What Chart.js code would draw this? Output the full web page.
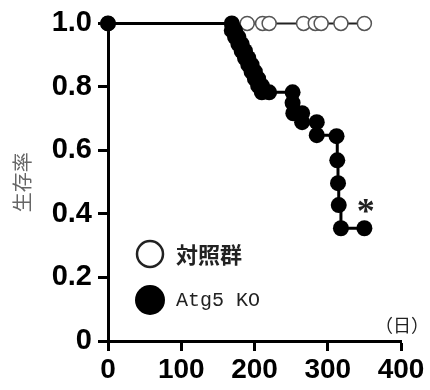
<!DOCTYPE html>
<html>
<head>
<meta charset="utf-8">
<script src="https://cdn.jsdelivr.net/npm/chart.js@4.4.1/dist/chart.umd.min.js"></script>
<style>
  html, body { margin: 0; padding: 0; background: #fff; }
  #wrap { width: 430px; height: 390px; position: relative; }
</style>
</head>
<body>
<div id="wrap"><canvas id="myChart"></canvas></div>
<script>
// survival data (days, fraction surviving)
var koDays   = [0, 169, 169, 173.5, 173.5, 178, 178, 182.5, 182.5, 187, 187, 191.5, 191.5, 196, 196, 200.5, 200.5, 205, 205, 210, 210, 220,
                252, 252, 253, 265, 265, 285, 285, 312, 313, 314, 315, 318, 350];
var koSurv   = [1.0, 1.0, 0.978, 0.978, 0.957, 0.957, 0.935, 0.935, 0.913, 0.913, 0.891, 0.891, 0.870, 0.870, 0.848, 0.848, 0.826, 0.826, 0.804, 0.804, 0.783, 0.783,
                0.783, 0.75, 0.717, 0.717, 0.689, 0.689, 0.648, 0.645, 0.569, 0.497, 0.428, 0.355, 0.355];
var ctrlDays = [0, 190, 211, 220, 267, 283, 291, 318, 350];
var ctrlSurv = [1.0, 1.0, 1.0, 1.0, 1.0, 1.0, 1.0, 1.0, 1.0];
var xTicks   = [0, 100, 200, 300, 400];
var yTicks   = [0, 0.2, 0.4, 0.6, 0.8, 1.0];
var legendLabels = ['対照群', 'Atg5 KO'];

function toPoints(xs, ys) {
    return xs.map(function (x, i) { return { x: x, y: ys[i] }; });
}

// legend, unit label and significance mark
var extras = {
    id: 'extras',
    afterDraw: function (chart) {
        var ctx = chart.ctx;
        ctx.save();
        // legend
        ctx.lineWidth = 2.5;
        ctx.strokeStyle = '#222';
        ctx.fillStyle = '#fff';
        ctx.beginPath(); ctx.arc(150, 254, 13, 0, Math.PI * 2); ctx.fill(); ctx.stroke();
        ctx.fillStyle = '#000';
        ctx.beginPath(); ctx.arc(150, 300, 15, 0, Math.PI * 2); ctx.fill();
        ctx.fillStyle = '#222';
        ctx.textBaseline = 'middle';
        ctx.textAlign = 'left';
        ctx.font = 'bold 22px "Noto Sans CJK JP"';
        ctx.fillText(legendLabels[0], 176, 255);
        ctx.font = '20px "Liberation Mono"';
        ctx.fillText(legendLabels[1], 176, 301);
        // unit
        ctx.font = '18px "Noto Sans CJK JP"';
        ctx.textAlign = 'center';
        ctx.fillText('（日）', 402, 325);
        // asterisk near last KO point
        var xs = chart.scales.x, ys = chart.scales.y;
        ctx.font = 'bold 36px "Liberation Serif"';
        ctx.fillText('*', xs.getPixelForValue(352), ys.getPixelForValue(0.43) + 9);
        ctx.restore();
    }
};

var ctx = document.getElementById('myChart').getContext('2d');
var myChart = new Chart(ctx, {
    type: 'line',
    data: {
        datasets: [{
            label: legendLabels[1],
            data: toPoints(koDays, koSurv),
            borderColor: '#000',
            backgroundColor: '#000',
            borderWidth: 3,
            pointRadius: 8,
            pointBackgroundColor: '#000',
            pointBorderColor: '#000',
            pointBorderWidth: 0,
            stepped: true,
            clip: false
        }, {
            label: legendLabels[0],
            data: toPoints(ctrlDays, ctrlSurv),
            borderColor: '#222',
            borderWidth: 2,
            pointRadius: 7,
            pointBackgroundColor: '#fff',
            pointBorderColor: '#555',
            pointBorderWidth: 1.5,
            clip: false
        }]
    },
    options: {
        responsive: true,
        maintainAspectRatio: false,
        animation: false,
        events: [],
        layout: { padding: { top: 23, right: 29, left: 0, bottom: 0 } },
        plugins: { legend: { display: false }, tooltip: { enabled: false } },
        scales: {
            x: {
                type: 'linear',
                min: 0, max: 400,
                afterFit: function (s) { s.height = 49; },
                afterBuildTicks: function (s) { s.ticks = xTicks.map(function (v) { return { value: v }; }); },
                grid: { drawOnChartArea: false, drawTicks: true, tickLength: 10, tickWidth: 3, tickColor: '#000' },
                border: { display: true, width: 3, color: '#000' },
                ticks: {
                    padding: 2,
                    color: '#000',
                    font: { family: '"Liberation Sans", Arial', size: 28, weight: 'bold' }
                }
            },
            y: {
                min: 0, max: 1.0,
                afterFit: function (s) { s.width = 108; },
                afterBuildTicks: function (s) { s.ticks = yTicks.map(function (v) { return { value: v }; }); },
                grid: { drawOnChartArea: false, drawTicks: true, tickLength: 10, tickWidth: 3, tickColor: '#000' },
                border: { display: true, width: 3, color: '#000' },
                ticks: {
                    padding: 6,
                    color: '#000',
                    font: { family: '"Liberation Sans", Arial', size: 29, weight: 'bold' },
                    callback: function (v) { return v === 0 ? '0' : v.toFixed(1); }
                },
                title: {
                    display: true,
                    text: '生存率',
                    color: '#666',
                    font: { family: '"Noto Sans CJK JP"', size: 20 },
                    padding: { top: 10, bottom: 0 }
                }
            }
        }
    },
    plugins: [extras]
});
</script>
</body>
</html>
